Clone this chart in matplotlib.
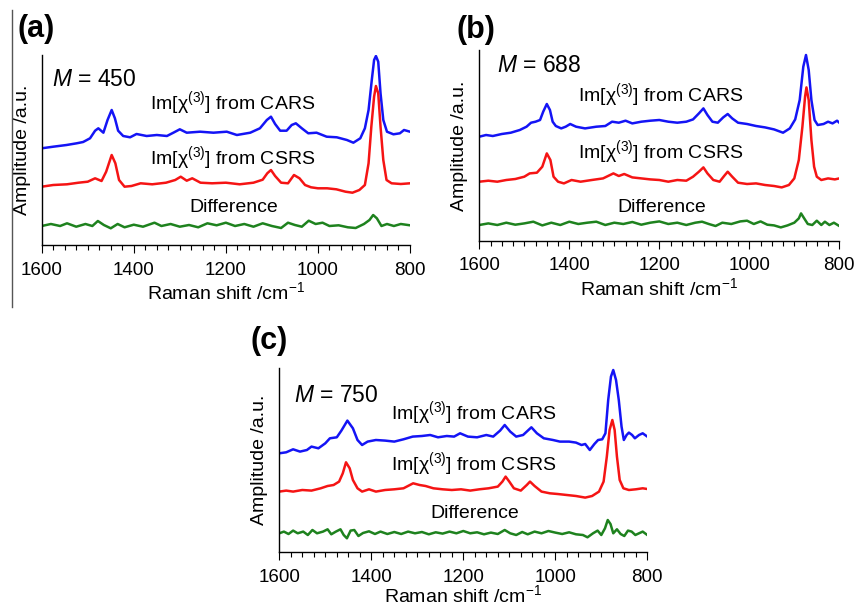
import numpy as np
import matplotlib
matplotlib.use("Agg")
import matplotlib.pyplot as plt
from matplotlib.lines import Line2D

plt.rcParams["font.family"] = ["Liberation Sans", "DejaVu Sans"]
plt.rcParams["mathtext.fontset"] = "custom"
plt.rcParams["mathtext.rm"] = "Liberation Sans"
plt.rcParams["mathtext.it"] = "Liberation Sans:italic"
plt.rcParams["mathtext.bf"] = "Liberation Sans:bold"

# ---- panel (a), M = 450 ----
a_cars_x = [1600, 1575, 1546, 1524, 1510, 1495, 1484, 1477, 1466, 1457, 1448, 1441, 1434, 1423, 1408, 1394,
            1372, 1350, 1328, 1314, 1300, 1285, 1256, 1227, 1198, 1176, 1147, 1126, 1111, 1102, 1093, 1082,
            1068, 1057, 1048, 1035, 1021, 1003, 981, 959, 937, 923, 908, 898, 890, 883, 878, 874, 869, 864,
            858, 850, 836, 822, 813, 800]
a_cars_y = [96.7, 98.3, 100, 101.7, 103, 106.7, 114.3, 116.7, 112.3, 125, 135, 126.7, 114.3, 109, 107.7, 111,
            109, 110, 109, 112.3, 115.7, 112.3, 113.3, 112.3, 113.3, 110, 112.3, 116.7, 125, 128.3, 121, 114.3,
            114.3, 120, 121.7, 116.7, 111.7, 112.3, 108.3, 107.7, 105, 102.3, 106.7, 116.7, 135, 165, 185, 189,
            183.3, 151.7, 125, 113.3, 110.7, 111.7, 115, 113.3]

a_csrs_x = [1600, 1575, 1545, 1520, 1500, 1484, 1470, 1460, 1448, 1440, 1432, 1420, 1405, 1385, 1360, 1330,
            1310, 1298, 1285, 1273, 1255, 1230, 1200, 1170, 1140, 1120, 1110, 1102, 1093, 1080, 1065, 1052,
            1040, 1028, 1015, 1000, 980, 960, 940, 925, 910, 898, 890, 884, 878, 874, 869, 864, 858, 851,
            840, 820, 800]
a_csrs_y = [58.3, 60, 60.7, 62.3, 63.3, 66.7, 64, 73.3, 90, 81.7, 65, 58.3, 59, 61.7, 60.7, 62.3,
            65, 68.3, 64.3, 66.7, 62.3, 61.7, 62.3, 60.7, 62.3, 65.3, 71.7, 75, 69, 62.3, 61.7, 70,
            66.7, 60, 57.7, 56.7, 56.7, 55.7, 53.3, 52.3, 55, 60, 81.7, 118.3, 148.3, 159, 151.7, 118.3, 85, 65,
            61.7, 61, 61.7]

a_diff_x = [1600, 1580, 1560, 1545, 1525, 1505, 1490, 1478, 1465, 1450, 1435, 1420, 1400, 1380, 1355, 1340,
            1320, 1300, 1280, 1260, 1240, 1220, 1200, 1180, 1160, 1140, 1120, 1100, 1080, 1065, 1050, 1035,
            1020, 1005, 990, 975, 955, 935, 918, 900, 888, 880, 872, 862, 850, 835, 820, 800]
a_diff_y = [19, 21, 19, 21.7, 18.3, 21, 19, 24, 20, 16.7, 21, 17.7, 20.3, 18.3, 22.3, 19,
            21, 18.3, 20, 17.7, 21.7, 19.7, 22.3, 19, 21, 18.3, 21.7, 19, 17, 22.3, 20, 18.3,
            24.3, 21, 22.3, 19, 19.7, 17.7, 17, 21, 25, 30, 26.7, 19, 21, 19, 21, 19.7]

# ---- panel (b), M = 688 ----
b_cars_x = [1600, 1585, 1570, 1550, 1530, 1510, 1495, 1485, 1475, 1465, 1458, 1450, 1443, 1437, 1430, 1418,
            1408, 1398, 1385, 1365, 1340, 1320, 1305, 1290, 1275, 1260, 1240, 1220, 1200, 1180, 1160, 1140,
            1125, 1112, 1102, 1093, 1082, 1070, 1058, 1048, 1038, 1025, 1005, 985, 965, 945, 925, 910,
            898, 888, 880, 874, 868, 862, 855, 848, 835, 825, 815, 805, 800]
b_cars_y = [104, 105.7, 104.7, 106.7, 108, 110.7, 114, 118, 119, 120.7, 129, 136.7, 130.7, 119, 114.7, 112.3,
            114, 116.7, 114, 112.3, 114, 114.7, 119, 118, 120, 117.3, 119, 120, 120.7, 119, 118, 119,
            121.3, 127.3, 132.3, 125.7, 119, 118, 123.3, 126.7, 122.3, 118, 116.7, 114.7, 113.3, 111.3, 108, 112.3,
            121.3, 140.7, 174, 185.7, 170.7, 140.7, 120.7, 115.7, 116.7, 119, 117.3, 120, 118]

b_csrs_x = [1600, 1580, 1560, 1540, 1520, 1500, 1488, 1472, 1460, 1450, 1442, 1435, 1425, 1412, 1395, 1375,
            1350, 1325, 1302, 1290, 1278, 1260, 1240, 1220, 1200, 1180, 1160, 1140, 1125, 1112, 1102, 1093,
            1080, 1066, 1056, 1048, 1038, 1025, 1005, 985, 965, 945, 928, 912, 900, 890, 882, 876, 873, 868,
            862, 856, 850, 840, 825, 810, 800]
b_csrs_y = [59, 60, 59, 60.7, 61.7, 64, 67.3, 68, 74, 87.3, 80.7, 64, 59, 57.3, 60.7, 59,
            60.7, 62.3, 67.3, 64.7, 66.7, 63.3, 62.3, 61.3, 60.7, 59, 60.7, 60, 64, 69, 73.3, 67.3,
            60.7, 59, 64.7, 69, 64, 58, 56.7, 57.3, 55.7, 54.7, 53.3, 55.7, 62.3, 80.7, 114, 144.3, 153.3, 140.7,
            100.7, 74, 64, 60.7, 62.3, 61.3, 62.3]

b_diff_x = [1600, 1580, 1560, 1540, 1520, 1500, 1480, 1460, 1440, 1420, 1400, 1380, 1360, 1340, 1320, 1300,
            1280, 1260, 1240, 1220, 1200, 1180, 1160, 1140, 1120, 1105, 1090, 1075, 1060, 1040, 1020, 1005,
            990, 975, 960, 945, 930, 915, 900, 890, 885, 878, 870, 860, 850, 840, 832, 822, 812, 800]
b_diff_y = [15.7, 17.3, 15.7, 18, 16, 17.3, 19, 15.3, 18, 15.7, 19, 16.7, 18, 19, 15.7, 18,
            16.7, 18.7, 16, 18, 19.3, 16.7, 18, 15.7, 18, 19, 16.7, 14.7, 18, 16.7, 19.3, 20,
            16.7, 19.3, 16, 15.3, 13.3, 15.3, 18, 22.3, 27.3, 22.3, 16.7, 15.7, 20, 15.7, 19, 15.7, 18, 14.7]

# ---- panel (c), M = 750 ----
c_cars_x = [1600, 1585, 1570, 1555, 1540, 1530, 1515, 1500, 1490, 1475, 1465, 1452, 1440, 1430, 1420, 1408,
            1390, 1370, 1350, 1330, 1310, 1290, 1272, 1255, 1236, 1220, 1207, 1190, 1170, 1150, 1135, 1120,
            1110, 1098, 1085, 1070, 1052, 1040, 1025, 1005, 990, 970, 955, 943, 935, 925, 915, 907,
            898, 891, 885, 879, 874, 868, 862, 856, 851, 845, 840, 833, 827, 818, 810, 800]
c_cars_y = [99, 100, 103, 100.7, 102.3, 105.7, 104, 109, 114, 115, 121.7, 131.7, 124, 112.3, 107.3, 110.7,
            112.3, 111.7, 110.7, 113, 115.7, 116.3, 117.3, 115, 116.3, 115.7, 119, 115.7, 115, 117.3, 115.7, 121.7,
            127.3, 120.7, 115.7, 117.3, 125, 119, 114, 112.3, 110.7, 110.7, 109.7, 107.3, 108.3, 102.3, 108.3, 112.3,
            113, 119, 152.3, 175.7, 182.3, 172.3, 152.3, 125.7, 112.3, 117.3, 119.7, 117.3, 114, 117.3, 119, 115.7]

c_csrs_x = [1600, 1585, 1570, 1550, 1530, 1510, 1495, 1482, 1470, 1462, 1455, 1447, 1440, 1430, 1420, 1405,
            1390, 1370, 1350, 1330, 1309, 1295, 1282, 1265, 1245, 1225, 1205, 1185, 1165, 1145, 1125, 1115,
            1108, 1100, 1090, 1075, 1062, 1055, 1045, 1030, 1012, 995, 975, 955, 935, 920, 905, 895,
            888, 882, 876, 871, 866, 860, 852, 840, 825, 810, 800]
c_csrs_y = [60.7, 61.7, 60.7, 62.3, 61.7, 64, 66.3, 67.3, 70.7, 79, 90, 84, 72.3, 64, 60.7, 63,
            60.7, 62.3, 63, 64, 69, 67.3, 66.3, 64, 63, 62.3, 63, 61.7, 63, 64, 65.7, 70.7,
            75.7, 70.7, 64, 61.7, 67.3, 70.7, 66.3, 60.7, 59, 58.3, 57.3, 56.3, 54.7, 56.3, 60.7, 70.7,
            95.7, 122.3, 132.3, 122.3, 95.7, 72.3, 64, 62.3, 63, 64, 63.3]

c_diff_x = [1600, 1590, 1580, 1570, 1560, 1548, 1538, 1528, 1518, 1505, 1495, 1487, 1477, 1467, 1460, 1453,
            1445, 1437, 1428, 1418, 1405, 1392, 1380, 1365, 1350, 1335, 1320, 1305, 1290, 1275, 1260, 1245,
            1230, 1215, 1200, 1185, 1170, 1155, 1140, 1125, 1110, 1098, 1085, 1072, 1060, 1045, 1030, 1015,
            1000, 985, 970, 955, 940, 930, 918, 908, 900, 892, 886, 880, 874, 866, 858, 850, 842, 834,
            826, 818, 810, 800]
c_diff_y = [19, 20.7, 18.3, 21.7, 19, 20.7, 17.3, 22.3, 19, 20.7, 23, 18, 20.7, 23, 17.3, 14,
            21.7, 22.3, 16.3, 19.3, 21, 18.3, 20.7, 18.3, 20.3, 18.3, 20.7, 19, 20.3, 18, 20, 18.7,
            20.7, 19, 21.3, 19, 20, 18, 19.7, 18.3, 22.3, 19, 17.3, 20.3, 18, 20.7, 19, 21.3,
            19.7, 18.3, 20, 18, 17.3, 15, 19, 21.7, 17.3, 24, 32.3, 28.3, 19, 23, 18.3, 16.3, 21.7, 20.7,
            17.3, 19, 20.7, 17.3]

blue = "#1414f5"
red = "#f51414"
green = "#1e821e"

fig = plt.figure(figsize=(8.55, 6.05), dpi=100)
W, H = 855, 605


def make_axes(left, top, right, bottom, ytop, xlabelpad=2):
    ax = fig.add_axes([left / W, 1 - bottom / H, (right - left) / W, (bottom - top) / H])
    ax.set_xlim(1600, 800)
    ax.set_ylim(0, ytop)
    ax.spines["top"].set_visible(False)
    ax.spines["right"].set_visible(False)
    ax.spines["left"].set_linewidth(1.0)
    ax.spines["bottom"].set_linewidth(1.0)
    ax.set_yticks([])
    ax.set_xticks([1600, 1400, 1200, 1000, 800])
    ax.set_xticks(np.arange(800, 1601, 25), minor=True)
    ax.tick_params(axis="x", which="major", direction="out", length=6, width=0.8, labelsize=13.5, pad=6)
    ax.tick_params(axis="x", which="minor", direction="out", length=3.5, width=0.8)
    ax.set_xlabel("Raman shift /cm$^{-1}$", fontsize=14, labelpad=xlabelpad)
    ax.set_ylabel("Amplitude /a.u.", fontsize=14, labelpad=8)
    return ax


panels = [
    (make_axes(41.7, 55, 410, 245, 190), "(a)", (17, 29), "450",
     a_cars_x, a_cars_y, a_csrs_x, a_csrs_y, a_diff_x, a_diff_y,
     (1578, 165), (1365, 142), (1365, 87), (1182, 38)),
    (make_axes(479.3, 50, 839.3, 240.7, 190.7), "(b)", (457, 30), "688",
     b_cars_x, b_cars_y, b_csrs_x, b_csrs_y, b_diff_x, b_diff_y,
     (1561, 175.7), (1381, 145.7), (1381, 88.7), (1194, 33.7)),
    (make_axes(279.3, 368.3, 647.3, 552.3, 184, xlabelpad=-1), "(c)", (250, 341), "750",
     c_cars_x, c_cars_y, c_csrs_x, c_csrs_y, c_diff_x, c_diff_y,
     (1568, 157.3), (1357, 139.3), (1357, 88.3), (1175, 39.3)),
]

for (ax, tag, tagpos, m, cx, cy, sx, sy, dx, dy, mpos, cpos, spos, dpos) in panels:
    ax.plot(cx, cy, color=blue, lw=1.8)
    ax.plot(sx, sy, color=red, lw=1.8)
    ax.plot(dx, dy, color=green, lw=1.8)
    ax.text(mpos[0], mpos[1], "$M$ = " + m, fontsize=16.5, va="center", ha="left")
    ax.text(cpos[0], cpos[1], "Im[χ$^{(3)}$] from CARS", fontsize=14, va="center", ha="left")
    ax.text(spos[0], spos[1], "Im[χ$^{(3)}$] from CSRS", fontsize=14, va="center", ha="left")
    ax.text(dpos[0], dpos[1], "Difference", fontsize=14, va="center", ha="center")
    fig.text(tagpos[0] / W, 1 - tagpos[1] / H, tag, fontsize=22, fontweight="bold",
             va="center", ha="left")

# thin separator line at the left of panel (a)
fig.add_artist(Line2D([12 / W, 12 / W], [1 - 10 / H, 1 - 307 / H], color="#555555", lw=1.0))

fig.savefig("out.png", dpi=100)
